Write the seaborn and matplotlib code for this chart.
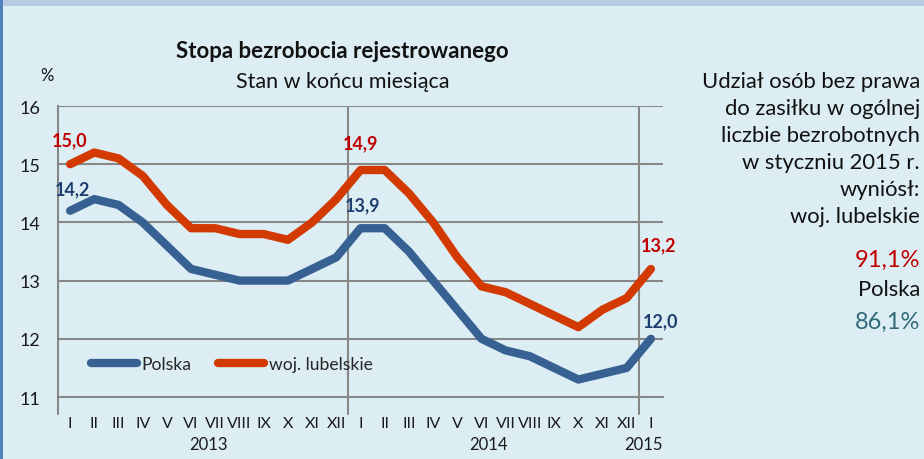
import pandas as pd
import matplotlib.pyplot as plt
import seaborn as sns
from matplotlib.lines import Line2D
from matplotlib.patches import Rectangle

# --- Dane ---
MONTHS = ["I", "II", "III", "IV", "V", "VI", "VII", "VIII", "IX", "X", "XI", "XII",
          "I", "II", "III", "IV", "V", "VI", "VII", "VIII", "IX", "X", "XI", "XII",
          "I"]
YEARS = ["2013", "2014", "2015"]
POLSKA = [14.2, 14.4, 14.3, 14.0, 13.6, 13.2, 13.1, 13.0, 13.0, 13.0, 13.2, 13.4,
          13.9, 13.9, 13.5, 13.0, 12.5, 12.0, 11.8, 11.7, 11.5, 11.3, 11.4, 11.5,
          12.0]
LUBELSKIE = [15.0, 15.2, 15.1, 14.8, 14.3, 13.9, 13.9, 13.8, 13.8, 13.7, 14.0, 14.4,
             14.9, 14.9, 14.5, 14.0, 13.4, 12.9, 12.8, 12.6, 12.4, 12.2, 12.5, 12.7,
             13.2]
SERIES = ["Polska", "woj. lubelskie"]
SIDE_LINES = ["Udział osób bez prawa", "do zasiłku w ogólnej", "liczbie bezrobotnych",
              "w styczniu 2015 r.", "wyniósł:", "woj. lubelskie"]
SHARE_LUB = "91,1%"
SHARE_PL = "86,1%"

BG = '#DCEEF4'
BLUE = '#386193'
RED = '#D23A02'
GRID = '#878787'
FONT = ['Lato', 'DejaVu Sans']

sns.set_style('white')
plt.rcParams['font.family'] = FONT

df = pd.DataFrame({
    'idx': list(range(len(MONTHS))) * 2,
    'value': POLSKA + LUBELSKIE,
    'series': [SERIES[0]] * len(MONTHS) + [SERIES[1]] * len(MONTHS),
})

fig = plt.figure(figsize=(9.24, 4.6), dpi=100)
fig.patch.set_facecolor(BG)

# ramka: pasek u gory i niebieska krawedz z lewej
fig.patches.append(Rectangle((0, 1 - 7 / 460), 1, 7 / 460, transform=fig.transFigure,
                             facecolor='#B7CCE3', edgecolor='none', zorder=0))
fig.patches.append(Rectangle((0, 0), 3 / 924, 1, transform=fig.transFigure,
                             facecolor='#4F81BD', edgecolor='none', zorder=0))

ax = fig.add_axes([58 / 924, 1 - 398 / 460, 605 / 924, 291 / 460])
ax.set_facecolor(BG)

sns.lineplot(data=df, x='idx', y='value', hue='series', palette=[BLUE, RED],
             linewidth=6, legend=False, ax=ax, zorder=3)
for ln in ax.get_lines():
    ln.set_solid_capstyle('round')
    ln.set_solid_joinstyle('round')

ax.set_xlim(-0.5, len(MONTHS) - 0.5)
ax.set_ylim(11, 16)
ax.set_yticks(range(11, 17))
ax.set_yticklabels([str(v) for v in range(11, 17)], fontsize=13, color='#1a1a1a')
ax.tick_params(axis='y', length=5, width=1.5, color=GRID, pad=8)
ax.set_xticks(range(len(MONTHS)))
ax.set_xticklabels(MONTHS, fontsize=11.5, color='#1a1a1a')
ax.tick_params(axis='x', length=0, pad=14)
ax.set_xlabel('')
ax.set_ylabel('')

for y in range(12, 17):
    ax.axhline(y, color=GRID, linewidth=1.5, zorder=1)
for sp in ['top', 'right']:
    ax.spines[sp].set_visible(False)
for sp in ['left', 'bottom']:
    ax.spines[sp].set_color(GRID)
    ax.spines[sp].set_linewidth(1.5)

# pionowe linie granic lat
for xb in [11.5, 23.5]:
    ax.axvline(xb, ymin=0, ymax=1, color=GRID, linewidth=1.5, zorder=1)
for xb in [-0.5, 11.5, 23.5]:
    ax.plot([xb, xb], [11, 10.7], color=GRID, linewidth=1.5, clip_on=False)

# podpisy lat
for pos, year in zip([5.7, 17.3, 23.7], YEARS):
    ax.text(pos, 10.2, year, ha='center', va='center', fontsize=12, color='#1a1a1a')

# etykiety danych
LAB_RED = '#C00000'
LAB_BLUE = '#1F3F6E'
labels = [(0, LUBELSKIE, 0.0, 0.42, LAB_RED), (12, LUBELSKIE, 0.0, 0.47, LAB_RED),
          (24, LUBELSKIE, 0.3, 0.42, LAB_RED),
          (0, POLSKA, 0.1, 0.38, LAB_BLUE), (12, POLSKA, 0.1, 0.41, LAB_BLUE),
          (24, POLSKA, 0.4, 0.31, LAB_BLUE)]
for i, arr, dx, dy, col in labels:
    ax.text(i + dx, arr[i] + dy, f"{arr[i]:.1f}".replace('.', ','), ha='center',
            va='center', fontsize=13, fontweight='bold', color=col)

# legenda (wspolrzedne figury)
handles = [Line2D([0], [0], color=BLUE, linewidth=6, solid_capstyle='round'),
           Line2D([0], [0], color=RED, linewidth=6, solid_capstyle='round')]
fig.legend(handles, SERIES, loc='center left', bbox_to_anchor=(84 / 924, 1 - 365 / 460),
           bbox_transform=fig.transFigure, borderaxespad=0, ncol=2,
           frameon=False, fontsize=12.6, handlelength=2.6, handletextpad=0.3,
           columnspacing=1.5)

# tytuly
fig.text(342 / 924, 1 - 52 / 460, "Stopa bezrobocia rejestrowanego", ha='center',
         va='center', fontsize=16, fontweight='bold', color='#111111')
fig.text(343 / 924, 1 - 82 / 460, "Stan w końcu miesiąca", ha='center', va='center',
         fontsize=15.5, color='#111111')
fig.text(47 / 924, 1 - 76 / 460, "%", ha='center', va='center', fontsize=12,
         color='#111111')

# tekst z boku
for k, line in enumerate(SIDE_LINES):
    fig.text(920 / 924, 1 - (82 + 27 * k) / 460, line, ha='right', va='center',
             fontsize=15.8, color='#111111')
fig.text(920 / 924, 1 - 260 / 460, SHARE_LUB, ha='right', va='center', fontsize=17,
         color='#C00000')
fig.text(920 / 924, 1 - 290 / 460, "Polska", ha='right', va='center', fontsize=15.8,
         color='#111111')
fig.text(920 / 924, 1 - 322 / 460, SHARE_PL, ha='right', va='center', fontsize=17,
         color='#31697A')

fig.savefig('out.png', dpi=100, facecolor=BG)
